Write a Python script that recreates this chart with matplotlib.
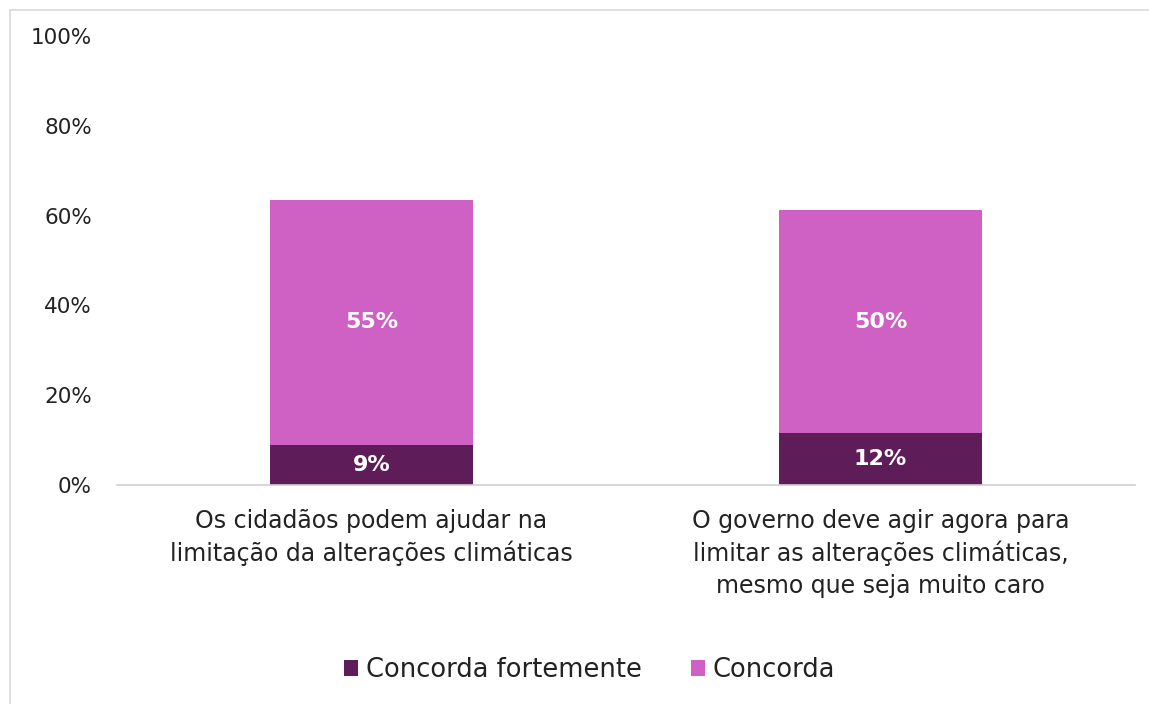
import matplotlib
matplotlib.use("Agg")
import matplotlib.pyplot as plt
from matplotlib.patches import Rectangle
from matplotlib.ticker import FuncFormatter

categories = ["Os cidadãos podem ajudar na\nlimitação da alterações climáticas",
              "O governo deve agir agora para\nlimitar as alterações climáticas,\nmesmo que seja muito caro"]
series_names = ["Concorda fortemente", "Concorda"]
concorda_fortemente = [8.9, 11.6]
concorda = [54.6, 49.6]
yticks = [0, 20, 40, 60, 80, 100]

colors = ["#5E1D58", "#CF60C4"]
plt.rcParams['font.family'] = ['DejaVu Sans']

fig = plt.figure(figsize=(11.49, 7.04), dpi=100)
ax = fig.add_axes([0.1018, 0.311, 0.886, 0.638])

x = list(range(len(categories)))
w = 0.4
b1 = ax.bar(x, concorda_fortemente, width=w, color=colors[0], label=series_names[0])
b2 = ax.bar(x, concorda, width=w, bottom=concorda_fortemente, color=colors[1], label=series_names[1])

for bars, vals, bottoms in [(b1, concorda_fortemente, [0, 0]), (b2, concorda, concorda_fortemente)]:
    for rect, v, b in zip(bars, vals, bottoms):
        ax.text(rect.get_x() + rect.get_width() / 2, b + v / 2, f"{v:.0f}%",
                ha="center", va="center", color="white", fontsize=16, fontweight="bold")

ax.set_xlim(-0.5, 1.5)
ax.set_ylim(0, 100)
ax.set_yticks(yticks)
ax.yaxis.set_major_formatter(FuncFormatter(lambda v, p: f"{int(v)}%"))
ax.set_xticks(x)
ax.set_xticklabels(categories, fontsize=17, color="#222222", linespacing=1.4)
ax.tick_params(axis="y", labelsize=15.5, colors="#222222", length=0, pad=18)
ax.tick_params(axis="x", length=0, pad=17)
for s in ["top", "right", "left"]:
    ax.spines[s].set_visible(False)
ax.spines["bottom"].set_color("#D0D0D0")
ax.spines["bottom"].set_linewidth(1.2)

leg = fig.legend(loc="center", bbox_to_anchor=(0.513, 0.048), ncol=2, frameon=False,
                 fontsize=18.5, handlelength=0.55, handleheight=0.55, handletextpad=0.3,
                 columnspacing=1.9)
for t in leg.get_texts():
    t.set_color("#222222")

fig.patches.append(Rectangle((10 / 1149, -0.01), 1.0, 1 - 10 / 704 + 0.01,
                             transform=fig.transFigure, fill=False,
                             edgecolor="#D9D9D9", linewidth=1.2))

fig.savefig("out.png", dpi=100)
